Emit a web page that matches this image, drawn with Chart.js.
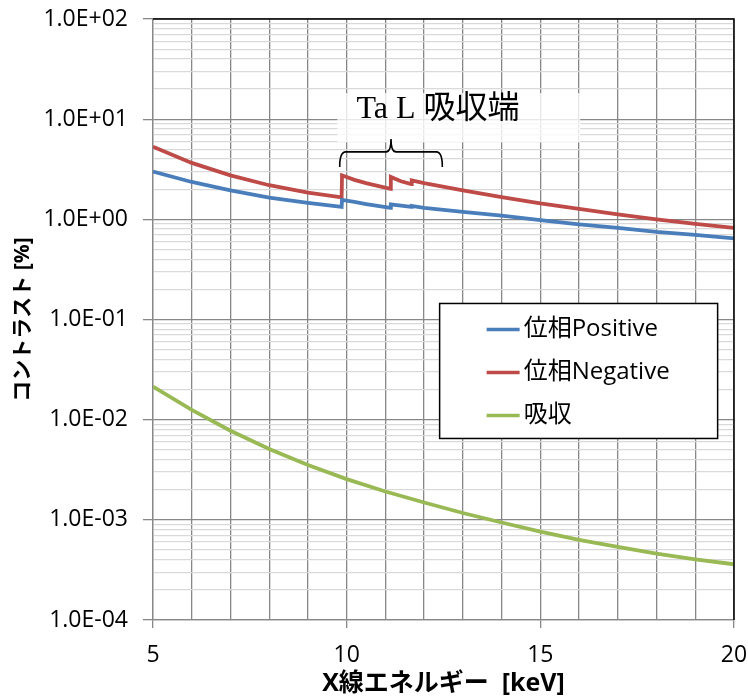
<!DOCTYPE html>
<html><head><meta charset="utf-8">
<script src="https://cdn.jsdelivr.net/npm/chart.js@4.4.1/dist/chart.umd.min.js"></script>
<style>html,body{margin:0;padding:0;background:#fff}</style>
</head><body>
<canvas id="c" width="748" height="699" style="width:748px;height:699px;display:block"></canvas>
<script>
// ---- data (X-ray energy [keV] vs contrast [%]) ----
const energyPos = [5, 6, 7, 8, 9, 9.87, 9.88, 10.2, 10.5, 10.8, 11.13, 11.14, 11.4, 11.67, 11.68, 12, 13, 14, 15, 16, 17, 18, 19, 20];
const contrastPos = [3.0, 2.36, 1.95, 1.65, 1.46, 1.33, 1.56, 1.49, 1.42, 1.36, 1.30, 1.41, 1.37, 1.33, 1.36, 1.30, 1.19, 1.09, 0.98, 0.89, 0.82, 0.75, 0.70, 0.645];
const energyNeg = [5, 6, 7, 8, 9, 9.87, 9.88, 10.2, 10.5, 10.8, 11.13, 11.14, 11.4, 11.67, 11.68, 12, 13, 14, 15, 16, 17, 18, 19, 20];
const contrastNeg = [5.3, 3.66, 2.75, 2.19, 1.85, 1.66, 2.75, 2.48, 2.30, 2.16, 2.02, 2.65, 2.40, 2.25, 2.45, 2.30, 1.95, 1.67, 1.44, 1.27, 1.12, 1.00, 0.90, 0.82];
const energyAbs = [5, 6, 7, 8, 9, 10, 11, 12, 13, 14, 15, 16, 17, 18, 19, 20];
const contrastAbs = [0.0214, 0.0125, 0.00776, 0.00509, 0.00352, 0.00255, 0.00192, 0.00149, 0.00117, 0.00094, 0.000764, 0.00063, 0.000537, 0.00046, 0.000404, 0.00036];
const seriesNames = ['位相Positive', '位相Negative', '吸収'];
const seriesColors = ['#4a7ebb', '#be4b48', '#98b954'];
const yTickValues = [];
for (let e = -4; e <= 1; e++) for (let m = 1; m <= 9; m++) yTickValues.push(+(m * Math.pow(10, e)).toPrecision(3));
yTickValues.push(100);
const xTickLabels = [5, 10, 15, 20];
const annotationText = 'Ta L 吸収端';
const braceRange = [9.82, 12.47];

const isDecade = v => Math.abs(Math.log10(v) - Math.round(Math.log10(v))) < 1e-6;
const fmtExp = v => {
  const e = Math.round(Math.log10(v));
  const s = e < 0 ? '-' : '+';
  return '1.0E' + s + String(Math.abs(e)).padStart(2, '0');
};
const toXY = (xs, ys) => xs.map((x, i) => ({x, y: ys[i]}));

const overlay = {
  id: 'overlay',
  beforeDatasetsDraw(chart) {
    const {ctx, scales: {x, y}} = chart;
    // annotation backdrop
    const bx1 = x.getPixelForValue(9.76), bx2 = x.getPixelForValue(16.03);
    const by1 = y.getPixelForValue(Math.pow(10, 1.26)), by2 = y.getPixelForValue(Math.pow(10, 0.77));
    ctx.save();
    ctx.fillStyle = 'rgba(255,255,255,0.8)';
    ctx.fillRect(bx1, by1, bx2 - bx1, by2 - by1);
    ctx.restore();
  },
  afterDatasetsDraw(chart) {
    const {ctx, chartArea: a, scales: {x, y}} = chart;
    ctx.save();
    // top & right border
    ctx.strokeStyle = '#000';
    ctx.lineWidth = 1.5;
    ctx.beginPath();
    ctx.moveTo(a.left, a.top); ctx.lineTo(a.right, a.top); ctx.lineTo(a.right, a.bottom);
    ctx.stroke();
    // annotation text
    ctx.fillStyle = '#000';
    ctx.font = '32px "Liberation Serif", "Noto Sans CJK JP", serif';
    ctx.textAlign = 'center';
    ctx.textBaseline = 'middle';
    ctx.fillText(annotationText, x.getPixelForValue(12.36), y.getPixelForValue(Math.pow(10, 1.1)));
    // brace
    const x1 = x.getPixelForValue(braceRange[0]), x2 = x.getPixelForValue(braceRange[1]);
    const xm = (x1 + x2) / 2;
    const yb = y.getPixelForValue(Math.pow(10, 0.673));
    ctx.lineWidth = 1.6;
    ctx.beginPath();
    ctx.moveTo(x1, yb + 15);
    ctx.quadraticCurveTo(x1, yb, x1 + 6, yb);
    ctx.lineTo(xm - 5, yb);
    ctx.quadraticCurveTo(xm, yb, xm, yb - 13);
    ctx.quadraticCurveTo(xm, yb, xm + 5, yb);
    ctx.lineTo(x2 - 6, yb);
    ctx.quadraticCurveTo(x2, yb, x2, yb + 15);
    ctx.stroke();
    // legend
    const lx = x.getPixelForValue(12.4), ly = y.getPixelForValue(Math.pow(10, -0.84));
    const lw = 278, lh = 135;
    ctx.fillStyle = '#fff';
    ctx.fillRect(lx, ly, lw, lh);
    ctx.strokeStyle = '#000';
    ctx.lineWidth = 1.5;
    ctx.strokeRect(lx, ly, lw, lh);
    ctx.font = '24px "Open Sans", "Noto Sans CJK JP", sans-serif';
    ctx.textAlign = 'left';
    ctx.textBaseline = 'middle';
    seriesNames.forEach((n, i) => {
      const yy = ly + 26 + i * 43;
      ctx.strokeStyle = seriesColors[i];
      ctx.lineWidth = 3.5;
      ctx.beginPath(); ctx.moveTo(lx + 47, yy); ctx.lineTo(lx + 80, yy); ctx.stroke();
      ctx.fillStyle = '#000';
      ctx.fillText(n, lx + 84, yy);
    });
    ctx.restore();
  }
};

const ds = (i, xs, ys) => ({
  label: seriesNames[i], data: toXY(xs, ys),
  borderColor: seriesColors[i], backgroundColor: seriesColors[i],
  borderWidth: 3.8, pointRadius: 0, tension: 0, fill: false
});

new Chart(document.getElementById('c'), {
  type: 'line',
  data: { datasets: [ds(0, energyPos, contrastPos), ds(1, energyNeg, contrastNeg), ds(2, energyAbs, contrastAbs)] },
  options: {
    responsive: false, animation: false, parsing: true,
    layout: { padding: { top: 19, right: 14, left: 0, bottom: 0 } },
    plugins: { legend: { display: false }, tooltip: { enabled: false } },
    scales: {
      x: {
        type: 'linear', min: 5, max: 20,
        afterFit: s => { s.height = 79; s.paddingLeft = 0; s.paddingRight = 0; },
        afterBuildTicks: s => { s.ticks = []; for (let v = 5; v <= 20; v++) s.ticks.push({value: v}); },
        ticks: { callback: v => xTickLabels.includes(v) ? String(v) : '', color: '#000', font: { family: '"Open Sans"', size: 23 }, padding: 14, maxRotation: 0, autoSkip: false },
        grid: { color: '#878787', lineWidth: 1.3, tickLength: 8,
          tickColor: c => (c.tick && xTickLabels.includes(c.tick.value)) ? '#878787' : 'rgba(0,0,0,0)' },
        border: { color: '#878787', width: 1.3 },
        title: { display: true, text: 'X線エネルギー  [keV]', color: '#000', font: { family: '"Open Sans", "Noto Sans CJK JP"', size: 25, weight: 'bold' }, padding: { top: 0, bottom: 0 } }
      },
      y: {
        type: 'logarithmic', min: 1e-4, max: 100,
        afterFit: s => { s.width = 153; s.paddingTop = 0; s.paddingBottom = 0; },
        afterBuildTicks: s => { s.ticks = yTickValues.map(v => ({value: v, major: isDecade(v)})); },
        ticks: { callback: v => isDecade(v) ? fmtExp(v) : '', color: '#000', font: { family: '"Open Sans"', size: 23 }, padding: 15, autoSkip: false },
        grid: {
          color: c => (c.tick && isDecade(c.tick.value)) ? '#878787' : '#d9d9d9',
          lineWidth: 1.3,
          tickLength: 10,
          tickColor: c => (c.tick && isDecade(c.tick.value)) ? '#878787' : 'rgba(0,0,0,0)'
        },
        border: { color: '#878787', width: 1.3 },
        title: { display: true, text: 'コントラスト [%]', color: '#000', font: { family: '"Open Sans", "Noto Sans CJK JP"', size: 21, weight: 'bold' }, padding: { top: 10, bottom: 0 } }
      }
    }
  },
  plugins: [overlay]
});
</script>
</body></html>
